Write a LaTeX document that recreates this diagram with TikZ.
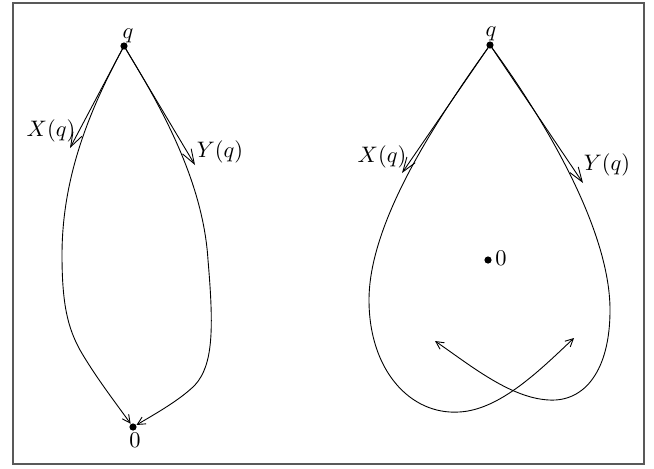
\documentclass[tikz,border=0pt]{standalone}
\usepackage{amsmath}
\usetikzlibrary{arrows.meta}

\begin{document}
\begin{tikzpicture}[
    x=0.446pt, y=-0.446pt,
    dot/.style = {circle, fill, inner sep=0pt, minimum size=3.2pt},
    vec/.style = {-{Straight Barb[length=6.5pt, width=4.5pt]}},
    flow/.style = {-{Straight Barb[length=3.5pt, width=3.5pt]}},
    frame/.style = {draw=black!65, line width=0.7pt}
  ]
  \useasboundingbox (0,0) rectangle (654,468);
  \draw[frame] (13,3) rectangle (644,464);

  % left picture
  \node[dot] (qL) at (124,46) {};
  \node[dot] (zL) at (133,427) {};
  \node (qLlab) at (128,36) {$q$};
  \node (zLlab) at (135,440) {$0$};
  \coordinate (xL) at (70,148);
  \coordinate (yL) at (195,165);
  \node (xLlab) at (51,131) {$X(q)$};
  \node (yLlab) at (220,152) {$Y(q)$};

  \draw[vec] (qL.center) -- (xL);
  \draw[vec] (qL.center) -- (yL);
  \draw[flow] (qL.center) .. controls (95,100) and (62,170) .. (62,255)
    .. controls (62,305) and (68,328) .. (80,350)
    .. controls (95,376) and (115,402) .. (zL);
  \draw[flow] (qL.center) .. controls (160,105) and (203,180) .. (208,260)
    .. controls (214,330) and (213,365) .. (195,385)
    .. controls (180,400) and (155,414) .. (zL);

  % right picture
  \node[dot] (qR) at (490,45) {};
  \node[dot] (zR) at (488,260) {};
  \node (qRlab) at (491,34) {$q$};
  \node (zRlab) at (501,258) {$0$};
  \coordinate (xR) at (402,173);
  \coordinate (yR) at (583,183);
  \node (xRlab) at (382,157) {$X(q)$};
  \node (yRlab) at (607,165) {$Y(q)$};
  \coordinate (eR1) at (574,338);
  \coordinate (eR2) at (435,341);

  \draw[vec] (qR.center) -- (xR);
  \draw[vec] (qR.center) -- (yR);
  \draw[flow] (qR.center) .. controls (440,115) and (369,220) .. (369,300)
    .. controls (369,370) and (410,415) .. (459,412)
    .. controls (500,410) and (540,370) .. (eR1);
  \draw[flow] (qR.center) .. controls (545,120) and (610,230) .. (610,310)
    .. controls (610,370) and (585,402) .. (549,400)
    .. controls (510,398) and (470,365) .. (eR2);
\end{tikzpicture}
\end{document}
